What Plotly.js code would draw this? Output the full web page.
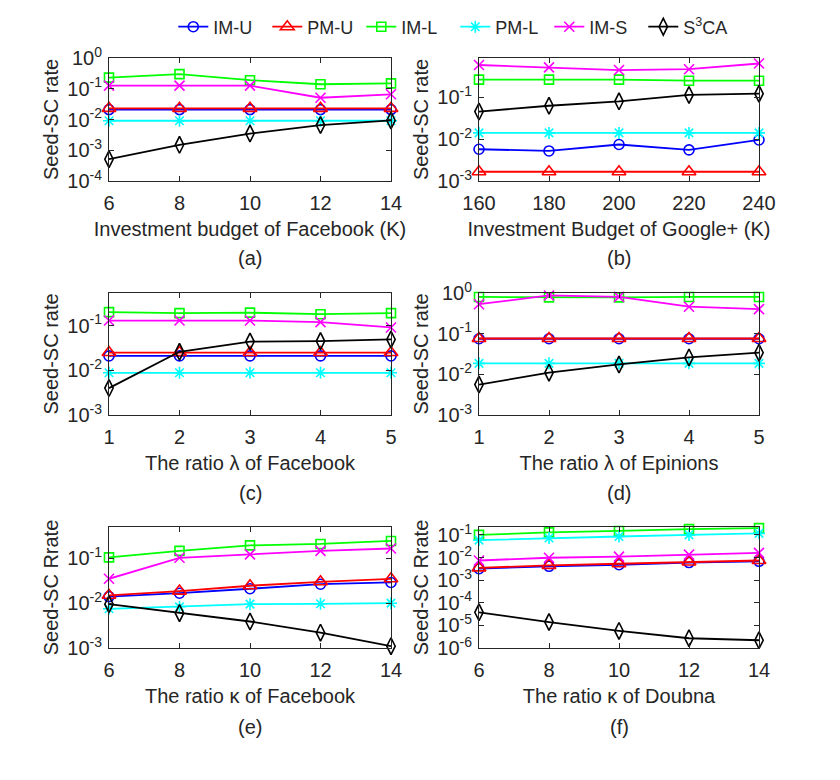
<!DOCTYPE html>
<html><head><meta charset="utf-8">
<script src="https://cdn.plot.ly/plotly-3.0.1.min.js"></script>
<style>html,body{margin:0;padding:0;background:#fff}</style>
</head><body><div id="chart" style="width:840px;height:780px"></div>
<script>
// ---- data ----
const seriesNames = ['IM-U', 'PM-U', 'IM-L', 'PM-L', 'IM-S', 'S<sup>3</sup>CA'];

const xBudgetFacebook = [6, 8, 10, 12, 14];
const xBudgetGoogle = [160, 180, 200, 220, 240];
const xRatioLambda = [1, 2, 3, 4, 5];
const xRatioKappa = [6, 8, 10, 12, 14];

// (a)
const a_IMU = [0.021, 0.021, 0.021, 0.021, 0.021];
const a_PMU = [0.023, 0.023, 0.023, 0.023, 0.023];
const a_IML = [0.23, 0.30, 0.19, 0.14, 0.15];
const a_PML = [0.0091, 0.0091, 0.0091, 0.0091, 0.0091];
const a_IMS = [0.126, 0.126, 0.126, 0.051, 0.066];
const a_S3CA = [0.00051, 0.0015, 0.0035, 0.0066, 0.0093];
// (b)
const b_IMU = [0.0057, 0.0052, 0.0074, 0.0055, 0.0095];
const b_PMU = [0.00166, 0.00166, 0.00166, 0.00166, 0.00166];
const b_IML = [0.26, 0.26, 0.26, 0.245, 0.245];
const b_PML = [0.014, 0.014, 0.014, 0.014, 0.014];
const b_IMS = [0.58, 0.51, 0.44, 0.46, 0.63];
const b_S3CA = [0.045, 0.062, 0.079, 0.112, 0.12];
// (c)
const c_IMU = [0.021, 0.021, 0.021, 0.021, 0.021];
const c_PMU = [0.025, 0.025, 0.025, 0.025, 0.025];
const c_IML = [0.20, 0.19, 0.195, 0.18, 0.19];
const c_PML = [0.0088, 0.0088, 0.0088, 0.0088, 0.0088];
const c_IMS = [0.13, 0.13, 0.13, 0.12, 0.091];
const c_S3CA = [0.0040, 0.026, 0.044, 0.045, 0.049];
// (d)
const d_IMU = [0.075, 0.075, 0.075, 0.075, 0.075];
const d_PMU = [0.076, 0.076, 0.076, 0.076, 0.076];
const d_IML = [0.80, 0.78, 0.78, 0.80, 0.80];
const d_PML = [0.0186, 0.0186, 0.0186, 0.0186, 0.0186];
const d_IMS = [0.53, 0.87, 0.80, 0.46, 0.40];
const d_S3CA = [0.0056, 0.011, 0.0175, 0.026, 0.034];
// (e)
const e_IMU = [0.014, 0.0167, 0.021, 0.0265, 0.029];
const e_PMU = [0.015, 0.0186, 0.0245, 0.030, 0.035];
const e_IML = [0.105, 0.147, 0.195, 0.21, 0.245];
const e_PML = [0.0075, 0.0083, 0.0095, 0.0097, 0.0100];
const e_IMS = [0.035, 0.103, 0.123, 0.147, 0.166];
const e_S3CA = [0.0095, 0.006, 0.0039, 0.0022, 0.0011];
// (f)
const f_IMU = [0.0032, 0.0041, 0.0048, 0.006, 0.0068];
const f_PMU = [0.0035, 0.0045, 0.0053, 0.0063, 0.0074];
const f_IML = [0.10, 0.13, 0.15, 0.18, 0.20];
const f_PML = [0.059, 0.073, 0.085, 0.10, 0.117];
const f_IMS = [0.0074, 0.0098, 0.011, 0.0135, 0.016];
const f_S3CA = [3.8e-5, 1.4e-5, 5.7e-6, 2.7e-6, 2.2e-6];

const xTitles = ['Investment budget of Facebook (K)', 'Investment Budget of Google+ (K)',
  'The ratio λ of Facebook', 'The ratio λ of Epinions',
  'The ratio κ of Facebook', 'The ratio κ of Doubna'];
const yTitles = ['Seed-SC rate', 'Seed-SC rate', 'Seed-SC rate', 'Seed-SC rate', 'Seed-SC Rrate', 'Seed-SC Rrate'];
const panelLabels = ['(a)', '(b)', '(c)', '(d)', '(e)', '(f)'];
const yTickExps = [[-4, -3, -2, -1, 0], [-3, -2, -1], [-3, -2, -1], [-3, -2, -1, 0], [-3, -2, -1], [-6, -5, -4, -3, -2, -1]];

// ---- styles ----
const colors = ['#0000FF', '#FF0000', '#00FF00', '#00FFFF', '#FF00FF', '#000000'];
const symbols = ['circle-open', 'triangle-up-open', 'square-open', 'asterisk-open', 'x-thin-open', 'diamond-tall-open'];
const msizes = [10, 12, 9, 10, 10, 12];

const panelX = [xBudgetFacebook, xBudgetGoogle, xRatioLambda, xRatioLambda, xRatioKappa, xRatioKappa];
const panelY = [
  [a_IMU, a_PMU, a_IML, a_PML, a_IMS, a_S3CA],
  [b_IMU, b_PMU, b_IML, b_PML, b_IMS, b_S3CA],
  [c_IMU, c_PMU, c_IML, c_PML, c_IMS, c_S3CA],
  [d_IMU, d_PMU, d_IML, d_PML, d_IMS, d_S3CA],
  [e_IMU, e_PMU, e_IML, e_PML, e_IMS, e_S3CA],
  [f_IMU, f_PMU, f_IML, f_PML, f_IMS, f_S3CA]
];
const yRanges = [[-4, 0], [-3, -0.07], [-3, -0.27], [-3, 0], [-3, -0.3], [-6, -0.65]];

const W = 840, H = 780;
const colDom = [[109 / W, 391 / W], [479 / W, 759 / W]];
const rowPx = [[58, 181], [293, 415], [527, 648]];
const rowDom = rowPx.map(r => [1 - r[1] / H, 1 - r[0] / H]);

const txt = '#262626';
const fontFam = 'Liberation Sans, Arial, sans-serif';

const traces = [];
const layout = {
  width: W, height: H,
  margin: {l: 0, r: 0, t: 0, b: 0},
  paper_bgcolor: '#fff', plot_bgcolor: '#fff',
  font: {family: fontFam, size: 20, color: txt},
  showlegend: true,
  legend: {orientation: 'h', x: 0.542, xanchor: 'center', y: 1 - 27 / H, yanchor: 'middle',
    font: {size: 18, color: txt}, entrywidth: 49, bgcolor: 'rgba(0,0,0,0)'},
  annotations: []
};

for (let p = 0; p < 6; p++) {
  const col = p % 2, row = Math.floor(p / 2);
  const xa = p === 0 ? 'x' : 'x' + (p + 1);
  const ya = p === 0 ? 'y' : 'y' + (p + 1);
  for (let s = 0; s < 6; s++) {
    traces.push({
      type: 'scatter', mode: 'lines+markers',
      x: panelX[p], y: panelY[p][s],
      name: seriesNames[s], legendgroup: 'g' + s, showlegend: p === 0,
      xaxis: xa, yaxis: ya, cliponaxis: false,
      line: {color: colors[s], width: 1.8},
      marker: {symbol: symbols[s], size: msizes[s], color: colors[s], line: {color: colors[s], width: 1.6}}
    });
  }
  const xr = panelX[p];
  const axCommon = {
    showline: true, linecolor: txt, linewidth: 1, mirror: 'ticks',
    ticks: 'inside', ticklen: 5, tickcolor: txt, showgrid: false, zeroline: false,
    tickfont: {size: 20, color: txt, family: fontFam}
  };
  layout['xaxis' + (p === 0 ? '' : p + 1)] = Object.assign({}, axCommon, {
    domain: colDom[col], anchor: ya, range: [xr[0], xr[xr.length - 1]],
    tickmode: 'array', tickvals: xr, ticktext: xr.map(String), ticklabelstandoff: 4,
    title: {text: xTitles[p], font: {size: 20, color: txt}, standoff: 8}
  });
  layout['yaxis' + (p === 0 ? '' : p + 1)] = Object.assign({}, axCommon, {
    domain: rowDom[row], anchor: xa, type: 'log', range: yRanges[p],
    tickmode: 'array', tickvals: yTickExps[p].map(e => Math.pow(10, e)),
    ticktext: yTickExps[p].map(e => '10<sup>' + e + '</sup>'), ticklabelstandoff: 2,
    title: {text: yTitles[p], font: {size: 20, color: txt}, standoff: 3}
  });
  const labelY = [258, 493, 727][row];
  layout.annotations.push({
    text: panelLabels[p], xref: 'paper', yref: 'paper',
    x: (colDom[col][0] + colDom[col][1]) / 2, y: 1 - labelY / H,
    xanchor: 'center', yanchor: 'middle', showarrow: false, font: {size: 20, color: txt}
  });
}

Plotly.newPlot('chart', traces, layout, {displayModeBar: false, staticPlot: true});
</script>
</body></html>
